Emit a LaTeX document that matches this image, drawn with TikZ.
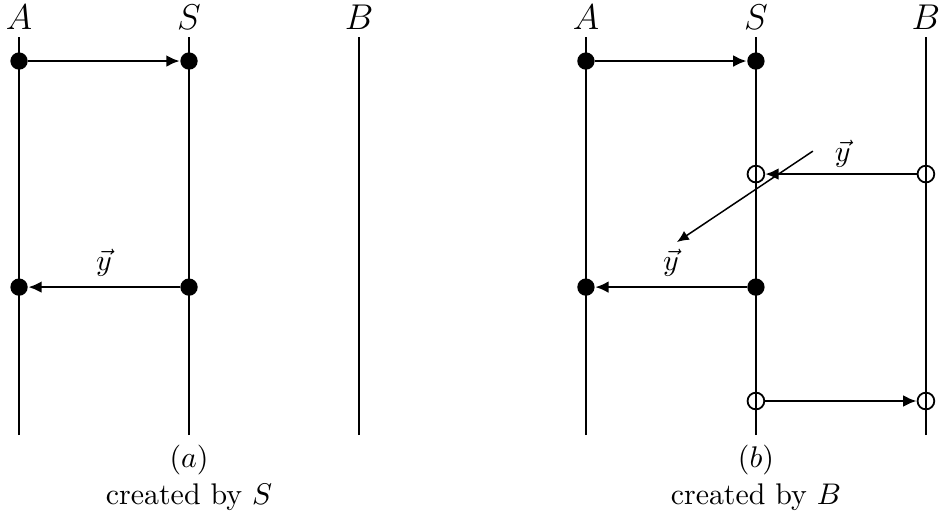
\documentclass[tikz,border=0pt]{standalone}
\usepackage{amsmath, amssymb}
\usepackage{tikz}
\usetikzlibrary{arrows.meta}

\tikzset{
  dot/.style={circle, fill, inner sep=0pt, minimum size=5.8pt},
  odot/.style={circle, draw, line width=0.6pt, inner sep=0pt, minimum size=5.6pt},
  msg/.style={-{Latex[length=4.5pt, width=4pt]}, line width=0.9pt},
  proc/.style={line width=0.4pt},
}

\begin{document}
\begin{tikzpicture}
  \useasboundingbox (-0.224,-1.047) rectangle (10.824,5.118);
  % (a): process lines A, S, B
  \foreach \x/\p in {0/A, 2/S, 4/B} {
    \draw[proc] (\x,0) -- (\x,4.68);
    \node (la\p) at (\x,4.92) {\large $\p$};
  }
  % (a) events
  \node[dot] (a1) at (0,4.4) {};
  \node[dot] (s1) at (2,4.4) {};
  \node[dot] (a2) at (0,1.74) {};
  \node[dot] (s2) at (2,1.74) {};
  \draw[msg] (a1) -- (s1);
  \draw[msg] (s2) -- node[above] {$\vec{y}$} (a2);
  \node (capa) at (2,-0.29) {$(a)$};
  \node (cra) at (2,-0.73) {created by $S$};

  % (b): process lines A, S, B
  \foreach \x/\p in {6.67/A, 8.67/S, 10.67/B} {
    \draw[proc] (\x,0) -- (\x,4.68);
    \node (lb\p) at (\x,4.92) {\large $\p$};
  }
  % (b) events
  \node[dot] (ba1) at (6.67,4.4) {};
  \node[dot] (bs1) at (8.67,4.4) {};
  \node[odot] (bs2) at (8.67,3.07) {};
  \node[odot] (bb1) at (10.67,3.07) {};
  \node[dot] (ba2) at (6.67,1.74) {};
  \node[dot] (bs3) at (8.67,1.74) {};
  \node[odot] (bs4) at (8.67,0.4) {};
  \node[odot] (bb2) at (10.67,0.4) {};
  \draw[msg] (ba1) -- (bs1);
  \draw[msg] (bb1) -- (bs2);
  \draw[msg] (bs3) -- node[above] {$\vec{y}$} (ba2);
  \draw[msg] (bs4) -- (bb2);
  % forged copy
  \coordinate (yfrom) at (9.34,3.34);
  \coordinate (yto) at (7.74,2.27);
  \draw[-{Latex[length=4pt, width=3.5pt]}, line width=0.5pt] (yfrom) -- (yto);
  \node (ylab) at (9.69,3.31) {$\vec{y}$};
  \node (capb) at (8.67,-0.29) {$(b)$};
  \node (crb) at (8.67,-0.73) {created by $B$};
\end{tikzpicture}
\end{document}
